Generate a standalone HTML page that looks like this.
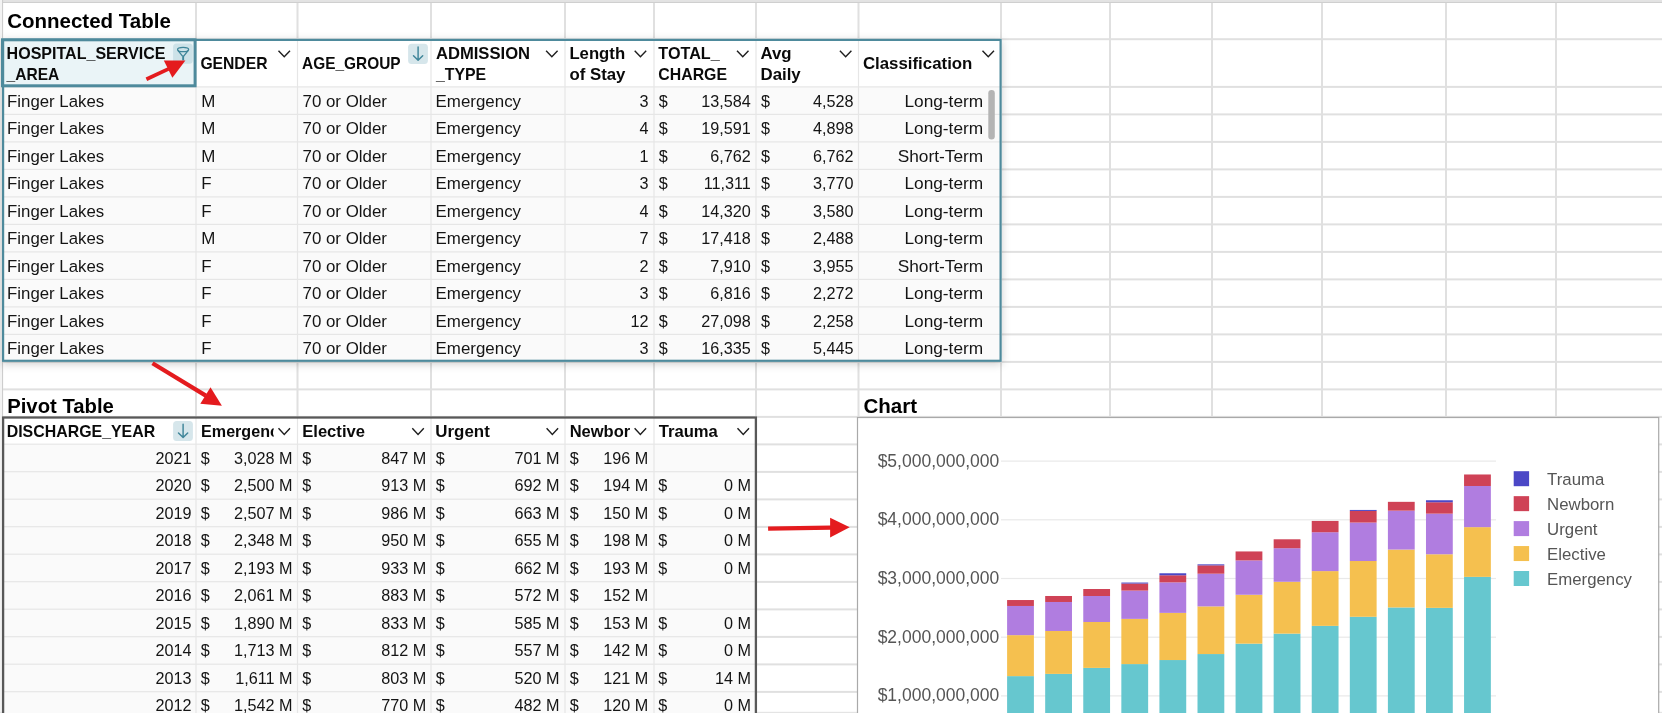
<!DOCTYPE html>
<html><head><meta charset="utf-8"><title>Spreadsheet</title>
<style>html,body{margin:0;padding:0;background:#fff;width:1662px;height:713px;overflow:hidden;position:relative}</style>
</head><body>
<svg width="1662" height="713" viewBox="0 0 1662 713" style="position:absolute;left:0;top:0;will-change:transform"><defs><filter id="sh" filterUnits="userSpaceOnUse" x="-40" y="0" width="1100" height="420"><feGaussianBlur stdDeviation="4.5"/></filter><clipPath id="cE"><rect x="196" y="418" width="77.6" height="26"/></clipPath><clipPath id="cN"><rect x="565" y="418" width="65.2" height="26"/></clipPath><clipPath id="cP"><rect x="0" y="418.6" width="755" height="300"/></clipPath></defs><rect x="0" y="0" width="1662" height="713" fill="#fff"/><rect x="0" y="0" width="1662" height="1.6" fill="#e3e3e3"/><rect x="0" y="1.6" width="1662" height="1.4" fill="#cfcfcf"/><rect x="0" y="0" width="2" height="713" fill="#f3f3f3"/><rect x="2" y="0" width="1.1" height="713" fill="#cdcdcd"/><rect x="195" y="3" width="2" height="713" fill="#e0e0e0"/><rect x="296.5" y="3" width="2" height="713" fill="#e0e0e0"/><rect x="430" y="3" width="2" height="713" fill="#e0e0e0"/><rect x="564" y="3" width="2" height="713" fill="#e0e0e0"/><rect x="653" y="3" width="2" height="713" fill="#e0e0e0"/><rect x="755" y="3" width="2" height="713" fill="#e0e0e0"/><rect x="857.5" y="3" width="2" height="713" fill="#e0e0e0"/><rect x="1000" y="3" width="2" height="713" fill="#e0e0e0"/><rect x="1109" y="3" width="2" height="713" fill="#e0e0e0"/><rect x="1211" y="3" width="2" height="713" fill="#e0e0e0"/><rect x="1321" y="3" width="2" height="713" fill="#e0e0e0"/><rect x="1445" y="3" width="2" height="713" fill="#e0e0e0"/><rect x="1555" y="3" width="2" height="713" fill="#e0e0e0"/><rect x="3" y="38.2" width="1662" height="2" fill="#e0e0e0"/><rect x="3" y="85.9" width="1662" height="2" fill="#e0e0e0"/><rect x="3" y="113.4" width="1662" height="2" fill="#e0e0e0"/><rect x="3" y="140.9" width="1662" height="2" fill="#e0e0e0"/><rect x="3" y="168.4" width="1662" height="2" fill="#e0e0e0"/><rect x="3" y="195.9" width="1662" height="2" fill="#e0e0e0"/><rect x="3" y="223.4" width="1662" height="2" fill="#e0e0e0"/><rect x="3" y="250.9" width="1662" height="2" fill="#e0e0e0"/><rect x="3" y="278.4" width="1662" height="2" fill="#e0e0e0"/><rect x="3" y="305.9" width="1662" height="2" fill="#e0e0e0"/><rect x="3" y="333.4" width="1662" height="2" fill="#e0e0e0"/><rect x="3" y="360.9" width="1662" height="2" fill="#e0e0e0"/><rect x="3" y="388.4" width="1662" height="2" fill="#e0e0e0"/><rect x="3" y="415.9" width="1662" height="2" fill="#e0e0e0"/><rect x="3" y="443.4" width="1662" height="2" fill="#e0e0e0"/><rect x="3" y="470.9" width="1662" height="2" fill="#e0e0e0"/><rect x="3" y="498.4" width="1662" height="2" fill="#e0e0e0"/><rect x="3" y="525.9" width="1662" height="2" fill="#e0e0e0"/><rect x="3" y="553.4" width="1662" height="2" fill="#e0e0e0"/><rect x="3" y="580.9" width="1662" height="2" fill="#e0e0e0"/><rect x="3" y="608.4" width="1662" height="2" fill="#e0e0e0"/><rect x="3" y="635.9" width="1662" height="2" fill="#e0e0e0"/><rect x="3" y="663.4" width="1662" height="2" fill="#e0e0e0"/><rect x="3" y="690.9" width="1662" height="2" fill="#e0e0e0"/><rect x="0" y="711.8" width="1662" height="1.2" fill="#e4e4e4"/><rect x="2" y="40.8" width="999.7" height="323.09999999999997" fill="rgba(0,0,0,0.2)" filter="url(#sh)"/><rect x="2" y="38.8" width="999.7" height="323.09999999999997" fill="#fff"/><rect x="2" y="86.9" width="999.7" height="275.0" fill="#fafafa"/><rect x="2" y="38.8" width="194" height="48.10000000000001" fill="#eaf4f7"/><rect x="195.4" y="38.8" width="1.2" height="323.09999999999997" fill="#e6e6e6"/><rect x="296.9" y="38.8" width="1.2" height="323.09999999999997" fill="#e6e6e6"/><rect x="430.4" y="38.8" width="1.2" height="323.09999999999997" fill="#e6e6e6"/><rect x="564.4" y="38.8" width="1.2" height="323.09999999999997" fill="#e6e6e6"/><rect x="653.4" y="38.8" width="1.2" height="323.09999999999997" fill="#e6e6e6"/><rect x="755.4" y="38.8" width="1.2" height="323.09999999999997" fill="#e6e6e6"/><rect x="857.9" y="38.8" width="1.2" height="323.09999999999997" fill="#e6e6e6"/><rect x="2" y="86.30000000000001" width="999.7" height="1.2" fill="#e6e6e6"/><rect x="2" y="113.80000000000001" width="999.7" height="1.2" fill="#e6e6e6"/><rect x="2" y="141.3" width="999.7" height="1.2" fill="#e6e6e6"/><rect x="2" y="168.8" width="999.7" height="1.2" fill="#e6e6e6"/><rect x="2" y="196.3" width="999.7" height="1.2" fill="#e6e6e6"/><rect x="2" y="223.8" width="999.7" height="1.2" fill="#e6e6e6"/><rect x="2" y="251.3" width="999.7" height="1.2" fill="#e6e6e6"/><rect x="2" y="278.79999999999995" width="999.7" height="1.2" fill="#e6e6e6"/><rect x="2" y="306.29999999999995" width="999.7" height="1.2" fill="#e6e6e6"/><rect x="2" y="333.79999999999995" width="999.7" height="1.2" fill="#e6e6e6"/><rect x="3.1" y="39.9" width="997.5" height="320.9" fill="none" stroke="#4e8a9c" stroke-width="2.2"/><rect x="2.5" y="39.8" width="192.6" height="46.0" fill="none" stroke="#4e8a9c" stroke-width="3"/><rect x="988.3" y="90" width="6.5" height="49.5" rx="3.2" fill="#b4b4b4"/><rect x="2" y="416.4" width="755" height="306.6" fill="#fff"/><rect x="2" y="444.2" width="755" height="713" fill="#fafafa"/><rect x="195.4" y="416.4" width="1.2" height="713" fill="#e6e6e6"/><rect x="296.9" y="416.4" width="1.2" height="713" fill="#e6e6e6"/><rect x="430.4" y="416.4" width="1.2" height="713" fill="#e6e6e6"/><rect x="564.4" y="416.4" width="1.2" height="713" fill="#e6e6e6"/><rect x="653.4" y="416.4" width="1.2" height="713" fill="#e6e6e6"/><rect x="2" y="443.59999999999997" width="755" height="1.2" fill="#e6e6e6"/><rect x="2" y="471.09999999999997" width="755" height="1.2" fill="#e6e6e6"/><rect x="2" y="498.59999999999997" width="755" height="1.2" fill="#e6e6e6"/><rect x="2" y="526.1" width="755" height="1.2" fill="#e6e6e6"/><rect x="2" y="553.6" width="755" height="1.2" fill="#e6e6e6"/><rect x="2" y="581.1" width="755" height="1.2" fill="#e6e6e6"/><rect x="2" y="608.6" width="755" height="1.2" fill="#e6e6e6"/><rect x="2" y="636.1" width="755" height="1.2" fill="#e6e6e6"/><rect x="2" y="663.6" width="755" height="1.2" fill="#e6e6e6"/><rect x="2" y="691.1" width="755" height="1.2" fill="#e6e6e6"/><rect x="2" y="718.6" width="755" height="1.2" fill="#e6e6e6"/><rect x="3.1" y="417.5" width="752.8" height="713" fill="none" stroke="#585858" stroke-width="2.3"/><rect x="857.5" y="417.5" width="801.2" height="713" fill="#fff" stroke="#a9a9a9" stroke-width="1.2"/><rect x="1001" y="695.30" width="495" height="1.2" fill="#e9e9e9"/><rect x="1001" y="636.60" width="495" height="1.2" fill="#e9e9e9"/><rect x="1001" y="577.90" width="495" height="1.2" fill="#e9e9e9"/><rect x="1001" y="519.20" width="495" height="1.2" fill="#e9e9e9"/><rect x="1001" y="460.50" width="495" height="1.2" fill="#e9e9e9"/><rect x="1007.10" y="676.12" width="26.8" height="78.48" fill="#66c7cf"/><rect x="1007.10" y="635.15" width="26.8" height="40.97" fill="#f5c04f"/><rect x="1007.10" y="605.97" width="26.8" height="29.17" fill="#b07de0"/><rect x="1007.10" y="600.04" width="26.8" height="5.93" fill="#cf4256"/><rect x="1045.18" y="673.89" width="26.8" height="80.71" fill="#66c7cf"/><rect x="1045.18" y="630.98" width="26.8" height="42.91" fill="#f5c04f"/><rect x="1045.18" y="601.98" width="26.8" height="29.00" fill="#b07de0"/><rect x="1045.18" y="595.99" width="26.8" height="5.99" fill="#cf4256"/><rect x="1083.26" y="667.90" width="26.8" height="86.70" fill="#66c7cf"/><rect x="1083.26" y="622.00" width="26.8" height="45.90" fill="#f5c04f"/><rect x="1083.26" y="595.99" width="26.8" height="26.00" fill="#b07de0"/><rect x="1083.26" y="589.01" width="26.8" height="6.99" fill="#cf4256"/><rect x="1121.34" y="664.08" width="26.8" height="90.52" fill="#66c7cf"/><rect x="1121.34" y="618.89" width="26.8" height="45.20" fill="#f5c04f"/><rect x="1121.34" y="590.59" width="26.8" height="28.29" fill="#b07de0"/><rect x="1121.34" y="583.55" width="26.8" height="7.04" fill="#cf4256"/><rect x="1121.34" y="582.55" width="26.8" height="1" fill="#4b47c6"/><rect x="1159.42" y="660.03" width="26.8" height="94.57" fill="#66c7cf"/><rect x="1159.42" y="612.90" width="26.8" height="47.14" fill="#f5c04f"/><rect x="1159.42" y="582.37" width="26.8" height="30.52" fill="#b07de0"/><rect x="1159.42" y="575.27" width="26.8" height="7.10" fill="#cf4256"/><rect x="1159.42" y="573.27" width="26.8" height="2" fill="#4b47c6"/><rect x="1197.50" y="654.05" width="26.8" height="100.55" fill="#66c7cf"/><rect x="1197.50" y="606.38" width="26.8" height="47.66" fill="#f5c04f"/><rect x="1197.50" y="573.69" width="26.8" height="32.70" fill="#b07de0"/><rect x="1197.50" y="565.35" width="26.8" height="8.34" fill="#cf4256"/><rect x="1197.50" y="564.35" width="26.8" height="1" fill="#4b47c6"/><rect x="1235.58" y="643.66" width="26.8" height="110.94" fill="#66c7cf"/><rect x="1235.58" y="594.76" width="26.8" height="48.90" fill="#f5c04f"/><rect x="1235.58" y="560.42" width="26.8" height="34.34" fill="#b07de0"/><rect x="1235.58" y="551.44" width="26.8" height="8.98" fill="#cf4256"/><rect x="1273.66" y="633.62" width="26.8" height="120.98" fill="#66c7cf"/><rect x="1273.66" y="581.79" width="26.8" height="51.83" fill="#f5c04f"/><rect x="1273.66" y="548.21" width="26.8" height="33.58" fill="#b07de0"/><rect x="1273.66" y="539.29" width="26.8" height="8.92" fill="#cf4256"/><rect x="1311.74" y="625.87" width="26.8" height="128.73" fill="#66c7cf"/><rect x="1311.74" y="571.10" width="26.8" height="54.77" fill="#f5c04f"/><rect x="1311.74" y="532.24" width="26.8" height="38.86" fill="#b07de0"/><rect x="1311.74" y="520.92" width="26.8" height="11.33" fill="#cf4256"/><rect x="1349.82" y="616.77" width="26.8" height="137.83" fill="#66c7cf"/><rect x="1349.82" y="561.01" width="26.8" height="55.77" fill="#f5c04f"/><rect x="1349.82" y="522.56" width="26.8" height="38.45" fill="#b07de0"/><rect x="1349.82" y="510.94" width="26.8" height="11.62" fill="#cf4256"/><rect x="1349.82" y="509.94" width="26.8" height="1" fill="#4b47c6"/><rect x="1387.90" y="607.44" width="26.8" height="147.16" fill="#66c7cf"/><rect x="1387.90" y="549.56" width="26.8" height="57.88" fill="#f5c04f"/><rect x="1387.90" y="510.64" width="26.8" height="38.92" fill="#b07de0"/><rect x="1387.90" y="501.84" width="26.8" height="8.81" fill="#cf4256"/><rect x="1425.98" y="607.85" width="26.8" height="146.75" fill="#66c7cf"/><rect x="1425.98" y="554.26" width="26.8" height="53.59" fill="#f5c04f"/><rect x="1425.98" y="513.64" width="26.8" height="40.62" fill="#b07de0"/><rect x="1425.98" y="502.25" width="26.8" height="11.39" fill="#cf4256"/><rect x="1425.98" y="500.25" width="26.8" height="2" fill="#4b47c6"/><rect x="1464.06" y="576.86" width="26.8" height="177.74" fill="#66c7cf"/><rect x="1464.06" y="527.14" width="26.8" height="49.72" fill="#f5c04f"/><rect x="1464.06" y="485.99" width="26.8" height="41.15" fill="#b07de0"/><rect x="1464.06" y="474.48" width="26.8" height="11.51" fill="#cf4256"/><rect x="1513.7" y="471.20" width="15.4" height="15" fill="#4b47c6"/><rect x="1513.7" y="496.15" width="15.4" height="15" fill="#cf4256"/><rect x="1513.7" y="521.10" width="15.4" height="15" fill="#b07de0"/><rect x="1513.7" y="546.05" width="15.4" height="15" fill="#f5c04f"/><rect x="1513.7" y="571.00" width="15.4" height="15" fill="#66c7cf"/><path d="M278.50 50.80 L284.25 56.80 L290.00 50.80" fill="none" stroke="#1e1e1e" stroke-width="1.4"/><path d="M546.10 50.80 L551.85 56.80 L557.60 50.80" fill="none" stroke="#1e1e1e" stroke-width="1.4"/><path d="M634.70 50.80 L640.45 56.80 L646.20 50.80" fill="none" stroke="#1e1e1e" stroke-width="1.4"/><path d="M737.00 50.80 L742.75 56.80 L748.50 50.80" fill="none" stroke="#1e1e1e" stroke-width="1.4"/><path d="M839.90 50.80 L845.65 56.80 L851.40 50.80" fill="none" stroke="#1e1e1e" stroke-width="1.4"/><path d="M982.50 50.80 L988.25 56.80 L994.00 50.80" fill="none" stroke="#1e1e1e" stroke-width="1.4"/><path d="M278.50 428.20 L284.25 434.40 L290.00 428.20" fill="none" stroke="#1e1e1e" stroke-width="1.4"/><path d="M412.30 428.20 L418.05 434.40 L423.80 428.20" fill="none" stroke="#1e1e1e" stroke-width="1.4"/><path d="M546.60 428.20 L552.35 434.40 L558.10 428.20" fill="none" stroke="#1e1e1e" stroke-width="1.4"/><path d="M634.60 428.20 L640.35 434.40 L646.10 428.20" fill="none" stroke="#1e1e1e" stroke-width="1.4"/><path d="M737.50 428.20 L743.25 434.40 L749.00 428.20" fill="none" stroke="#1e1e1e" stroke-width="1.4"/><rect x="408.1" y="43.7" width="19.8" height="20.2" rx="3.5" fill="#d6e6eb"/><path d="M418.1 47.0 V60.0 M413.5 55.7 L418.1 60.300000000000004 L422.70000000000005 55.7" fill="none" stroke="#3f8599" stroke-width="1.45" stroke-linecap="round" stroke-linejoin="round"/><rect x="173.1" y="420.9" width="19.8" height="20.2" rx="3.5" fill="#d6e6eb"/><path d="M183.1 424.2 V437.2 M178.5 432.9 L183.1 437.5 L187.7 432.9" fill="none" stroke="#3f8599" stroke-width="1.45" stroke-linecap="round" stroke-linejoin="round"/><rect x="173.1" y="43.6" width="19.7" height="20.1" rx="3.5" fill="#cde2e8"/><g fill="none" stroke="#3f8599" stroke-width="1.3"><ellipse cx="183.1" cy="49.5" rx="5.5" ry="2.2"/><path d="M177.9 50.4 L182.5 56.2 M188.3 50.4 L183.7 56.2"/></g><rect x="182.2" y="55.6" width="1.9" height="4.8" fill="#3f8599"/><g font-family='"Liberation Sans", Arial, sans-serif'><text x="7.2" y="28" font-size="20.5" font-weight="bold" text-anchor="start" fill="#000" >Connected Table</text><text x="7.2" y="412.5" font-size="20.3" font-weight="bold" text-anchor="start" fill="#000" >Pivot Table</text><text x="863.5" y="412.8" font-size="20.5" font-weight="bold" text-anchor="start" fill="#000" >Chart</text><text x="6.6" y="58.8" font-size="15.7" font-weight="bold" text-anchor="start" fill="#0a0a0a" textLength="158.89999999999998" lengthAdjust="spacingAndGlyphs">HOSPITAL_SERVICE</text><text x="6.6" y="79.5" font-size="15.7" font-weight="bold" text-anchor="start" fill="#0a0a0a" textLength="52.7" lengthAdjust="spacingAndGlyphs">_AREA</text><text x="200.4" y="69.0" font-size="15.7" font-weight="bold" text-anchor="start" fill="#0a0a0a" textLength="67.10000000000001" lengthAdjust="spacingAndGlyphs">GENDER</text><text x="302.1" y="69.0" font-size="15.7" font-weight="bold" text-anchor="start" fill="#0a0a0a" textLength="98.5" lengthAdjust="spacingAndGlyphs">AGE_GROUP</text><text x="435.90000000000003" y="58.8" font-size="15.7" font-weight="bold" text-anchor="start" fill="#0a0a0a" textLength="94.2" lengthAdjust="spacingAndGlyphs">ADMISSION</text><text x="435.90000000000003" y="79.5" font-size="15.7" font-weight="bold" text-anchor="start" fill="#0a0a0a" textLength="50.300000000000004" lengthAdjust="spacingAndGlyphs">_TYPE</text><text x="569.4" y="58.8" font-size="15.7" font-weight="bold" text-anchor="start" fill="#0a0a0a" textLength="55.7" lengthAdjust="spacingAndGlyphs">Length</text><text x="569.4" y="79.5" font-size="15.7" font-weight="bold" text-anchor="start" fill="#0a0a0a" textLength="56.1" lengthAdjust="spacingAndGlyphs">of Stay</text><text x="658.3000000000001" y="58.8" font-size="15.7" font-weight="bold" text-anchor="start" fill="#0a0a0a" textLength="61.400000000000006" lengthAdjust="spacingAndGlyphs">TOTAL_</text><text x="658.3000000000001" y="79.5" font-size="15.7" font-weight="bold" text-anchor="start" fill="#0a0a0a" textLength="68.7" lengthAdjust="spacingAndGlyphs">CHARGE</text><text x="760.5" y="58.8" font-size="15.7" font-weight="bold" text-anchor="start" fill="#0a0a0a" textLength="31.099999999999998" lengthAdjust="spacingAndGlyphs">Avg</text><text x="760.5" y="79.5" font-size="15.7" font-weight="bold" text-anchor="start" fill="#0a0a0a" textLength="40.2" lengthAdjust="spacingAndGlyphs">Daily</text><text x="862.9" y="69.0" font-size="15.7" font-weight="bold" text-anchor="start" fill="#0a0a0a" textLength="109.5" lengthAdjust="spacingAndGlyphs">Classification</text><text x="7.1" y="106.6" font-size="16.8" font-weight="normal" text-anchor="start" fill="#141414" >Finger Lakes</text><text x="201.2" y="106.6" font-size="16.9" font-weight="normal" text-anchor="start" fill="#141414" >M</text><text x="302.5" y="106.6" font-size="16.9" font-weight="normal" text-anchor="start" fill="#141414" >70 or Older</text><text x="435.6" y="106.6" font-size="16.9" font-weight="normal" text-anchor="start" fill="#141414" >Emergency</text><text x="648.6" y="106.6" font-size="16.2" font-weight="normal" text-anchor="end" fill="#141414" >3</text><text x="658.7" y="106.6" font-size="16.2" font-weight="normal" text-anchor="start" fill="#141414" >$</text><text x="750.8" y="106.6" font-size="16.2" font-weight="normal" text-anchor="end" fill="#141414" >13,584</text><text x="760.9" y="106.6" font-size="16.2" font-weight="normal" text-anchor="start" fill="#141414" >$</text><text x="853.6" y="106.6" font-size="16.2" font-weight="normal" text-anchor="end" fill="#141414" >4,528</text><text x="983.2" y="106.6" font-size="17.3" font-weight="normal" text-anchor="end" fill="#141414" >Long-term</text><text x="7.1" y="134.1" font-size="16.8" font-weight="normal" text-anchor="start" fill="#141414" >Finger Lakes</text><text x="201.2" y="134.1" font-size="16.9" font-weight="normal" text-anchor="start" fill="#141414" >M</text><text x="302.5" y="134.1" font-size="16.9" font-weight="normal" text-anchor="start" fill="#141414" >70 or Older</text><text x="435.6" y="134.1" font-size="16.9" font-weight="normal" text-anchor="start" fill="#141414" >Emergency</text><text x="648.6" y="134.1" font-size="16.2" font-weight="normal" text-anchor="end" fill="#141414" >4</text><text x="658.7" y="134.1" font-size="16.2" font-weight="normal" text-anchor="start" fill="#141414" >$</text><text x="750.8" y="134.1" font-size="16.2" font-weight="normal" text-anchor="end" fill="#141414" >19,591</text><text x="760.9" y="134.1" font-size="16.2" font-weight="normal" text-anchor="start" fill="#141414" >$</text><text x="853.6" y="134.1" font-size="16.2" font-weight="normal" text-anchor="end" fill="#141414" >4,898</text><text x="983.2" y="134.1" font-size="17.3" font-weight="normal" text-anchor="end" fill="#141414" >Long-term</text><text x="7.1" y="161.6" font-size="16.8" font-weight="normal" text-anchor="start" fill="#141414" >Finger Lakes</text><text x="201.2" y="161.6" font-size="16.9" font-weight="normal" text-anchor="start" fill="#141414" >M</text><text x="302.5" y="161.6" font-size="16.9" font-weight="normal" text-anchor="start" fill="#141414" >70 or Older</text><text x="435.6" y="161.6" font-size="16.9" font-weight="normal" text-anchor="start" fill="#141414" >Emergency</text><text x="648.6" y="161.6" font-size="16.2" font-weight="normal" text-anchor="end" fill="#141414" >1</text><text x="658.7" y="161.6" font-size="16.2" font-weight="normal" text-anchor="start" fill="#141414" >$</text><text x="750.8" y="161.6" font-size="16.2" font-weight="normal" text-anchor="end" fill="#141414" >6,762</text><text x="760.9" y="161.6" font-size="16.2" font-weight="normal" text-anchor="start" fill="#141414" >$</text><text x="853.6" y="161.6" font-size="16.2" font-weight="normal" text-anchor="end" fill="#141414" >6,762</text><text x="983.2" y="161.6" font-size="17.3" font-weight="normal" text-anchor="end" fill="#141414" >Short-Term</text><text x="7.1" y="189.1" font-size="16.8" font-weight="normal" text-anchor="start" fill="#141414" >Finger Lakes</text><text x="201.2" y="189.1" font-size="16.9" font-weight="normal" text-anchor="start" fill="#141414" >F</text><text x="302.5" y="189.1" font-size="16.9" font-weight="normal" text-anchor="start" fill="#141414" >70 or Older</text><text x="435.6" y="189.1" font-size="16.9" font-weight="normal" text-anchor="start" fill="#141414" >Emergency</text><text x="648.6" y="189.1" font-size="16.2" font-weight="normal" text-anchor="end" fill="#141414" >3</text><text x="658.7" y="189.1" font-size="16.2" font-weight="normal" text-anchor="start" fill="#141414" >$</text><text x="750.8" y="189.1" font-size="16.2" font-weight="normal" text-anchor="end" fill="#141414" >11,311</text><text x="760.9" y="189.1" font-size="16.2" font-weight="normal" text-anchor="start" fill="#141414" >$</text><text x="853.6" y="189.1" font-size="16.2" font-weight="normal" text-anchor="end" fill="#141414" >3,770</text><text x="983.2" y="189.1" font-size="17.3" font-weight="normal" text-anchor="end" fill="#141414" >Long-term</text><text x="7.1" y="216.6" font-size="16.8" font-weight="normal" text-anchor="start" fill="#141414" >Finger Lakes</text><text x="201.2" y="216.6" font-size="16.9" font-weight="normal" text-anchor="start" fill="#141414" >F</text><text x="302.5" y="216.6" font-size="16.9" font-weight="normal" text-anchor="start" fill="#141414" >70 or Older</text><text x="435.6" y="216.6" font-size="16.9" font-weight="normal" text-anchor="start" fill="#141414" >Emergency</text><text x="648.6" y="216.6" font-size="16.2" font-weight="normal" text-anchor="end" fill="#141414" >4</text><text x="658.7" y="216.6" font-size="16.2" font-weight="normal" text-anchor="start" fill="#141414" >$</text><text x="750.8" y="216.6" font-size="16.2" font-weight="normal" text-anchor="end" fill="#141414" >14,320</text><text x="760.9" y="216.6" font-size="16.2" font-weight="normal" text-anchor="start" fill="#141414" >$</text><text x="853.6" y="216.6" font-size="16.2" font-weight="normal" text-anchor="end" fill="#141414" >3,580</text><text x="983.2" y="216.6" font-size="17.3" font-weight="normal" text-anchor="end" fill="#141414" >Long-term</text><text x="7.1" y="244.1" font-size="16.8" font-weight="normal" text-anchor="start" fill="#141414" >Finger Lakes</text><text x="201.2" y="244.1" font-size="16.9" font-weight="normal" text-anchor="start" fill="#141414" >M</text><text x="302.5" y="244.1" font-size="16.9" font-weight="normal" text-anchor="start" fill="#141414" >70 or Older</text><text x="435.6" y="244.1" font-size="16.9" font-weight="normal" text-anchor="start" fill="#141414" >Emergency</text><text x="648.6" y="244.1" font-size="16.2" font-weight="normal" text-anchor="end" fill="#141414" >7</text><text x="658.7" y="244.1" font-size="16.2" font-weight="normal" text-anchor="start" fill="#141414" >$</text><text x="750.8" y="244.1" font-size="16.2" font-weight="normal" text-anchor="end" fill="#141414" >17,418</text><text x="760.9" y="244.1" font-size="16.2" font-weight="normal" text-anchor="start" fill="#141414" >$</text><text x="853.6" y="244.1" font-size="16.2" font-weight="normal" text-anchor="end" fill="#141414" >2,488</text><text x="983.2" y="244.1" font-size="17.3" font-weight="normal" text-anchor="end" fill="#141414" >Long-term</text><text x="7.1" y="271.6" font-size="16.8" font-weight="normal" text-anchor="start" fill="#141414" >Finger Lakes</text><text x="201.2" y="271.6" font-size="16.9" font-weight="normal" text-anchor="start" fill="#141414" >F</text><text x="302.5" y="271.6" font-size="16.9" font-weight="normal" text-anchor="start" fill="#141414" >70 or Older</text><text x="435.6" y="271.6" font-size="16.9" font-weight="normal" text-anchor="start" fill="#141414" >Emergency</text><text x="648.6" y="271.6" font-size="16.2" font-weight="normal" text-anchor="end" fill="#141414" >2</text><text x="658.7" y="271.6" font-size="16.2" font-weight="normal" text-anchor="start" fill="#141414" >$</text><text x="750.8" y="271.6" font-size="16.2" font-weight="normal" text-anchor="end" fill="#141414" >7,910</text><text x="760.9" y="271.6" font-size="16.2" font-weight="normal" text-anchor="start" fill="#141414" >$</text><text x="853.6" y="271.6" font-size="16.2" font-weight="normal" text-anchor="end" fill="#141414" >3,955</text><text x="983.2" y="271.6" font-size="17.3" font-weight="normal" text-anchor="end" fill="#141414" >Short-Term</text><text x="7.1" y="299.1" font-size="16.8" font-weight="normal" text-anchor="start" fill="#141414" >Finger Lakes</text><text x="201.2" y="299.1" font-size="16.9" font-weight="normal" text-anchor="start" fill="#141414" >F</text><text x="302.5" y="299.1" font-size="16.9" font-weight="normal" text-anchor="start" fill="#141414" >70 or Older</text><text x="435.6" y="299.1" font-size="16.9" font-weight="normal" text-anchor="start" fill="#141414" >Emergency</text><text x="648.6" y="299.1" font-size="16.2" font-weight="normal" text-anchor="end" fill="#141414" >3</text><text x="658.7" y="299.1" font-size="16.2" font-weight="normal" text-anchor="start" fill="#141414" >$</text><text x="750.8" y="299.1" font-size="16.2" font-weight="normal" text-anchor="end" fill="#141414" >6,816</text><text x="760.9" y="299.1" font-size="16.2" font-weight="normal" text-anchor="start" fill="#141414" >$</text><text x="853.6" y="299.1" font-size="16.2" font-weight="normal" text-anchor="end" fill="#141414" >2,272</text><text x="983.2" y="299.1" font-size="17.3" font-weight="normal" text-anchor="end" fill="#141414" >Long-term</text><text x="7.1" y="326.6" font-size="16.8" font-weight="normal" text-anchor="start" fill="#141414" >Finger Lakes</text><text x="201.2" y="326.6" font-size="16.9" font-weight="normal" text-anchor="start" fill="#141414" >F</text><text x="302.5" y="326.6" font-size="16.9" font-weight="normal" text-anchor="start" fill="#141414" >70 or Older</text><text x="435.6" y="326.6" font-size="16.9" font-weight="normal" text-anchor="start" fill="#141414" >Emergency</text><text x="648.6" y="326.6" font-size="16.2" font-weight="normal" text-anchor="end" fill="#141414" >12</text><text x="658.7" y="326.6" font-size="16.2" font-weight="normal" text-anchor="start" fill="#141414" >$</text><text x="750.8" y="326.6" font-size="16.2" font-weight="normal" text-anchor="end" fill="#141414" >27,098</text><text x="760.9" y="326.6" font-size="16.2" font-weight="normal" text-anchor="start" fill="#141414" >$</text><text x="853.6" y="326.6" font-size="16.2" font-weight="normal" text-anchor="end" fill="#141414" >2,258</text><text x="983.2" y="326.6" font-size="17.3" font-weight="normal" text-anchor="end" fill="#141414" >Long-term</text><text x="7.1" y="354.1" font-size="16.8" font-weight="normal" text-anchor="start" fill="#141414" >Finger Lakes</text><text x="201.2" y="354.1" font-size="16.9" font-weight="normal" text-anchor="start" fill="#141414" >F</text><text x="302.5" y="354.1" font-size="16.9" font-weight="normal" text-anchor="start" fill="#141414" >70 or Older</text><text x="435.6" y="354.1" font-size="16.9" font-weight="normal" text-anchor="start" fill="#141414" >Emergency</text><text x="648.6" y="354.1" font-size="16.2" font-weight="normal" text-anchor="end" fill="#141414" >3</text><text x="658.7" y="354.1" font-size="16.2" font-weight="normal" text-anchor="start" fill="#141414" >$</text><text x="750.8" y="354.1" font-size="16.2" font-weight="normal" text-anchor="end" fill="#141414" >16,335</text><text x="760.9" y="354.1" font-size="16.2" font-weight="normal" text-anchor="start" fill="#141414" >$</text><text x="853.6" y="354.1" font-size="16.2" font-weight="normal" text-anchor="end" fill="#141414" >5,445</text><text x="983.2" y="354.1" font-size="17.3" font-weight="normal" text-anchor="end" fill="#141414" >Long-term</text><text x="6.7" y="437" font-size="15.7" font-weight="bold" text-anchor="start" fill="#0a0a0a" textLength="148.5" lengthAdjust="spacingAndGlyphs">DISCHARGE_YEAR</text><g clip-path="url(#cE)"><text x="201.1" y="437" font-size="16.1" font-weight="bold" text-anchor="start" fill="#0a0a0a" >Emergency</text></g><text x="302.2" y="437" font-size="15.7" font-weight="bold" text-anchor="start" fill="#0a0a0a" textLength="62.800000000000004" lengthAdjust="spacingAndGlyphs">Elective</text><text x="435.3" y="437" font-size="15.7" font-weight="bold" text-anchor="start" fill="#0a0a0a" textLength="54.5" lengthAdjust="spacingAndGlyphs">Urgent</text><g clip-path="url(#cN)"><text x="569.7" y="437" font-size="16.5" font-weight="bold" text-anchor="start" fill="#0a0a0a" >Newborn</text></g><text x="658.7" y="437" font-size="15.7" font-weight="bold" text-anchor="start" fill="#0a0a0a" textLength="59.2" lengthAdjust="spacingAndGlyphs">Trauma</text><g clip-path="url(#cP)"><text x="191.4" y="463.6" font-size="16.2" font-weight="normal" text-anchor="end" fill="#141414" >2021</text><text x="200.7" y="463.6" font-size="16.2" font-weight="normal" text-anchor="start" fill="#141414" >$</text><text x="292.6" y="463.6" font-size="16.2" font-weight="normal" text-anchor="end" fill="#141414" >3,028 M</text><text x="302.2" y="463.6" font-size="16.2" font-weight="normal" text-anchor="start" fill="#141414" >$</text><text x="426.2" y="463.6" font-size="16.2" font-weight="normal" text-anchor="end" fill="#141414" >847 M</text><text x="435.8" y="463.6" font-size="16.2" font-weight="normal" text-anchor="start" fill="#141414" >$</text><text x="559.4" y="463.6" font-size="16.2" font-weight="normal" text-anchor="end" fill="#141414" >701 M</text><text x="569.8" y="463.6" font-size="16.2" font-weight="normal" text-anchor="start" fill="#141414" >$</text><text x="648.3" y="463.6" font-size="16.2" font-weight="normal" text-anchor="end" fill="#141414" >196 M</text><text x="191.4" y="491.1" font-size="16.2" font-weight="normal" text-anchor="end" fill="#141414" >2020</text><text x="200.7" y="491.1" font-size="16.2" font-weight="normal" text-anchor="start" fill="#141414" >$</text><text x="292.6" y="491.1" font-size="16.2" font-weight="normal" text-anchor="end" fill="#141414" >2,500 M</text><text x="302.2" y="491.1" font-size="16.2" font-weight="normal" text-anchor="start" fill="#141414" >$</text><text x="426.2" y="491.1" font-size="16.2" font-weight="normal" text-anchor="end" fill="#141414" >913 M</text><text x="435.8" y="491.1" font-size="16.2" font-weight="normal" text-anchor="start" fill="#141414" >$</text><text x="559.4" y="491.1" font-size="16.2" font-weight="normal" text-anchor="end" fill="#141414" >692 M</text><text x="569.8" y="491.1" font-size="16.2" font-weight="normal" text-anchor="start" fill="#141414" >$</text><text x="648.3" y="491.1" font-size="16.2" font-weight="normal" text-anchor="end" fill="#141414" >194 M</text><text x="658.2" y="491.1" font-size="16.2" font-weight="normal" text-anchor="start" fill="#141414" >$</text><text x="750.9" y="491.1" font-size="16.2" font-weight="normal" text-anchor="end" fill="#141414" >0 M</text><text x="191.4" y="518.6" font-size="16.2" font-weight="normal" text-anchor="end" fill="#141414" >2019</text><text x="200.7" y="518.6" font-size="16.2" font-weight="normal" text-anchor="start" fill="#141414" >$</text><text x="292.6" y="518.6" font-size="16.2" font-weight="normal" text-anchor="end" fill="#141414" >2,507 M</text><text x="302.2" y="518.6" font-size="16.2" font-weight="normal" text-anchor="start" fill="#141414" >$</text><text x="426.2" y="518.6" font-size="16.2" font-weight="normal" text-anchor="end" fill="#141414" >986 M</text><text x="435.8" y="518.6" font-size="16.2" font-weight="normal" text-anchor="start" fill="#141414" >$</text><text x="559.4" y="518.6" font-size="16.2" font-weight="normal" text-anchor="end" fill="#141414" >663 M</text><text x="569.8" y="518.6" font-size="16.2" font-weight="normal" text-anchor="start" fill="#141414" >$</text><text x="648.3" y="518.6" font-size="16.2" font-weight="normal" text-anchor="end" fill="#141414" >150 M</text><text x="658.2" y="518.6" font-size="16.2" font-weight="normal" text-anchor="start" fill="#141414" >$</text><text x="750.9" y="518.6" font-size="16.2" font-weight="normal" text-anchor="end" fill="#141414" >0 M</text><text x="191.4" y="546.1" font-size="16.2" font-weight="normal" text-anchor="end" fill="#141414" >2018</text><text x="200.7" y="546.1" font-size="16.2" font-weight="normal" text-anchor="start" fill="#141414" >$</text><text x="292.6" y="546.1" font-size="16.2" font-weight="normal" text-anchor="end" fill="#141414" >2,348 M</text><text x="302.2" y="546.1" font-size="16.2" font-weight="normal" text-anchor="start" fill="#141414" >$</text><text x="426.2" y="546.1" font-size="16.2" font-weight="normal" text-anchor="end" fill="#141414" >950 M</text><text x="435.8" y="546.1" font-size="16.2" font-weight="normal" text-anchor="start" fill="#141414" >$</text><text x="559.4" y="546.1" font-size="16.2" font-weight="normal" text-anchor="end" fill="#141414" >655 M</text><text x="569.8" y="546.1" font-size="16.2" font-weight="normal" text-anchor="start" fill="#141414" >$</text><text x="648.3" y="546.1" font-size="16.2" font-weight="normal" text-anchor="end" fill="#141414" >198 M</text><text x="658.2" y="546.1" font-size="16.2" font-weight="normal" text-anchor="start" fill="#141414" >$</text><text x="750.9" y="546.1" font-size="16.2" font-weight="normal" text-anchor="end" fill="#141414" >0 M</text><text x="191.4" y="573.6" font-size="16.2" font-weight="normal" text-anchor="end" fill="#141414" >2017</text><text x="200.7" y="573.6" font-size="16.2" font-weight="normal" text-anchor="start" fill="#141414" >$</text><text x="292.6" y="573.6" font-size="16.2" font-weight="normal" text-anchor="end" fill="#141414" >2,193 M</text><text x="302.2" y="573.6" font-size="16.2" font-weight="normal" text-anchor="start" fill="#141414" >$</text><text x="426.2" y="573.6" font-size="16.2" font-weight="normal" text-anchor="end" fill="#141414" >933 M</text><text x="435.8" y="573.6" font-size="16.2" font-weight="normal" text-anchor="start" fill="#141414" >$</text><text x="559.4" y="573.6" font-size="16.2" font-weight="normal" text-anchor="end" fill="#141414" >662 M</text><text x="569.8" y="573.6" font-size="16.2" font-weight="normal" text-anchor="start" fill="#141414" >$</text><text x="648.3" y="573.6" font-size="16.2" font-weight="normal" text-anchor="end" fill="#141414" >193 M</text><text x="658.2" y="573.6" font-size="16.2" font-weight="normal" text-anchor="start" fill="#141414" >$</text><text x="750.9" y="573.6" font-size="16.2" font-weight="normal" text-anchor="end" fill="#141414" >0 M</text><text x="191.4" y="601.1" font-size="16.2" font-weight="normal" text-anchor="end" fill="#141414" >2016</text><text x="200.7" y="601.1" font-size="16.2" font-weight="normal" text-anchor="start" fill="#141414" >$</text><text x="292.6" y="601.1" font-size="16.2" font-weight="normal" text-anchor="end" fill="#141414" >2,061 M</text><text x="302.2" y="601.1" font-size="16.2" font-weight="normal" text-anchor="start" fill="#141414" >$</text><text x="426.2" y="601.1" font-size="16.2" font-weight="normal" text-anchor="end" fill="#141414" >883 M</text><text x="435.8" y="601.1" font-size="16.2" font-weight="normal" text-anchor="start" fill="#141414" >$</text><text x="559.4" y="601.1" font-size="16.2" font-weight="normal" text-anchor="end" fill="#141414" >572 M</text><text x="569.8" y="601.1" font-size="16.2" font-weight="normal" text-anchor="start" fill="#141414" >$</text><text x="648.3" y="601.1" font-size="16.2" font-weight="normal" text-anchor="end" fill="#141414" >152 M</text><text x="191.4" y="628.6" font-size="16.2" font-weight="normal" text-anchor="end" fill="#141414" >2015</text><text x="200.7" y="628.6" font-size="16.2" font-weight="normal" text-anchor="start" fill="#141414" >$</text><text x="292.6" y="628.6" font-size="16.2" font-weight="normal" text-anchor="end" fill="#141414" >1,890 M</text><text x="302.2" y="628.6" font-size="16.2" font-weight="normal" text-anchor="start" fill="#141414" >$</text><text x="426.2" y="628.6" font-size="16.2" font-weight="normal" text-anchor="end" fill="#141414" >833 M</text><text x="435.8" y="628.6" font-size="16.2" font-weight="normal" text-anchor="start" fill="#141414" >$</text><text x="559.4" y="628.6" font-size="16.2" font-weight="normal" text-anchor="end" fill="#141414" >585 M</text><text x="569.8" y="628.6" font-size="16.2" font-weight="normal" text-anchor="start" fill="#141414" >$</text><text x="648.3" y="628.6" font-size="16.2" font-weight="normal" text-anchor="end" fill="#141414" >153 M</text><text x="658.2" y="628.6" font-size="16.2" font-weight="normal" text-anchor="start" fill="#141414" >$</text><text x="750.9" y="628.6" font-size="16.2" font-weight="normal" text-anchor="end" fill="#141414" >0 M</text><text x="191.4" y="656.1" font-size="16.2" font-weight="normal" text-anchor="end" fill="#141414" >2014</text><text x="200.7" y="656.1" font-size="16.2" font-weight="normal" text-anchor="start" fill="#141414" >$</text><text x="292.6" y="656.1" font-size="16.2" font-weight="normal" text-anchor="end" fill="#141414" >1,713 M</text><text x="302.2" y="656.1" font-size="16.2" font-weight="normal" text-anchor="start" fill="#141414" >$</text><text x="426.2" y="656.1" font-size="16.2" font-weight="normal" text-anchor="end" fill="#141414" >812 M</text><text x="435.8" y="656.1" font-size="16.2" font-weight="normal" text-anchor="start" fill="#141414" >$</text><text x="559.4" y="656.1" font-size="16.2" font-weight="normal" text-anchor="end" fill="#141414" >557 M</text><text x="569.8" y="656.1" font-size="16.2" font-weight="normal" text-anchor="start" fill="#141414" >$</text><text x="648.3" y="656.1" font-size="16.2" font-weight="normal" text-anchor="end" fill="#141414" >142 M</text><text x="658.2" y="656.1" font-size="16.2" font-weight="normal" text-anchor="start" fill="#141414" >$</text><text x="750.9" y="656.1" font-size="16.2" font-weight="normal" text-anchor="end" fill="#141414" >0 M</text><text x="191.4" y="683.6" font-size="16.2" font-weight="normal" text-anchor="end" fill="#141414" >2013</text><text x="200.7" y="683.6" font-size="16.2" font-weight="normal" text-anchor="start" fill="#141414" >$</text><text x="292.6" y="683.6" font-size="16.2" font-weight="normal" text-anchor="end" fill="#141414" >1,611 M</text><text x="302.2" y="683.6" font-size="16.2" font-weight="normal" text-anchor="start" fill="#141414" >$</text><text x="426.2" y="683.6" font-size="16.2" font-weight="normal" text-anchor="end" fill="#141414" >803 M</text><text x="435.8" y="683.6" font-size="16.2" font-weight="normal" text-anchor="start" fill="#141414" >$</text><text x="559.4" y="683.6" font-size="16.2" font-weight="normal" text-anchor="end" fill="#141414" >520 M</text><text x="569.8" y="683.6" font-size="16.2" font-weight="normal" text-anchor="start" fill="#141414" >$</text><text x="648.3" y="683.6" font-size="16.2" font-weight="normal" text-anchor="end" fill="#141414" >121 M</text><text x="658.2" y="683.6" font-size="16.2" font-weight="normal" text-anchor="start" fill="#141414" >$</text><text x="750.9" y="683.6" font-size="16.2" font-weight="normal" text-anchor="end" fill="#141414" >14 M</text><text x="191.4" y="711.1" font-size="16.2" font-weight="normal" text-anchor="end" fill="#141414" >2012</text><text x="200.7" y="711.1" font-size="16.2" font-weight="normal" text-anchor="start" fill="#141414" >$</text><text x="292.6" y="711.1" font-size="16.2" font-weight="normal" text-anchor="end" fill="#141414" >1,542 M</text><text x="302.2" y="711.1" font-size="16.2" font-weight="normal" text-anchor="start" fill="#141414" >$</text><text x="426.2" y="711.1" font-size="16.2" font-weight="normal" text-anchor="end" fill="#141414" >770 M</text><text x="435.8" y="711.1" font-size="16.2" font-weight="normal" text-anchor="start" fill="#141414" >$</text><text x="559.4" y="711.1" font-size="16.2" font-weight="normal" text-anchor="end" fill="#141414" >482 M</text><text x="569.8" y="711.1" font-size="16.2" font-weight="normal" text-anchor="start" fill="#141414" >$</text><text x="648.3" y="711.1" font-size="16.2" font-weight="normal" text-anchor="end" fill="#141414" >120 M</text><text x="658.2" y="711.1" font-size="16.2" font-weight="normal" text-anchor="start" fill="#141414" >$</text><text x="750.9" y="711.1" font-size="16.2" font-weight="normal" text-anchor="end" fill="#141414" >0 M</text><text x="191.4" y="738.6" font-size="16.2" font-weight="normal" text-anchor="end" fill="#141414" >2011</text><text x="200.7" y="738.6" font-size="16.2" font-weight="normal" text-anchor="start" fill="#141414" >$</text><text x="292.6" y="738.6" font-size="16.2" font-weight="normal" text-anchor="end" fill="#141414" >1,477 M</text><text x="302.2" y="738.6" font-size="16.2" font-weight="normal" text-anchor="start" fill="#141414" >$</text><text x="426.2" y="738.6" font-size="16.2" font-weight="normal" text-anchor="end" fill="#141414" >782 M</text><text x="435.8" y="738.6" font-size="16.2" font-weight="normal" text-anchor="start" fill="#141414" >$</text><text x="559.4" y="738.6" font-size="16.2" font-weight="normal" text-anchor="end" fill="#141414" >443 M</text><text x="569.8" y="738.6" font-size="16.2" font-weight="normal" text-anchor="start" fill="#141414" >$</text><text x="648.3" y="738.6" font-size="16.2" font-weight="normal" text-anchor="end" fill="#141414" >119 M</text><text x="658.2" y="738.6" font-size="16.2" font-weight="normal" text-anchor="start" fill="#141414" >$</text><text x="750.9" y="738.6" font-size="16.2" font-weight="normal" text-anchor="end" fill="#141414" >0 M</text></g><text x="999.3" y="701.40" font-size="17.5" font-weight="normal" text-anchor="end" fill="#555" >$1,000,000,000</text><text x="999.3" y="642.70" font-size="17.5" font-weight="normal" text-anchor="end" fill="#555" >$2,000,000,000</text><text x="999.3" y="584.00" font-size="17.5" font-weight="normal" text-anchor="end" fill="#555" >$3,000,000,000</text><text x="999.3" y="525.30" font-size="17.5" font-weight="normal" text-anchor="end" fill="#555" >$4,000,000,000</text><text x="999.3" y="466.60" font-size="17.5" font-weight="normal" text-anchor="end" fill="#555" >$5,000,000,000</text><text x="1547.1" y="485.10" font-size="16.8" font-weight="normal" text-anchor="start" fill="#555" >Trauma</text><text x="1547.1" y="510.05" font-size="16.8" font-weight="normal" text-anchor="start" fill="#555" >Newborn</text><text x="1547.1" y="535.00" font-size="16.8" font-weight="normal" text-anchor="start" fill="#555" >Urgent</text><text x="1547.1" y="559.95" font-size="16.8" font-weight="normal" text-anchor="start" fill="#555" >Elective</text><text x="1547.1" y="584.90" font-size="16.8" font-weight="normal" text-anchor="start" fill="#555" >Emergency</text></g><polygon points="147.20,80.92 169.40,70.62 167.80,67.18 145.60,77.48" fill="#e41b1e"/><polygon points="163.8,60.4 185.4,60.4 172.4,77.8" fill="#e41b1e"/><polygon points="151.41,365.10 204.71,397.40 206.89,393.80 153.59,361.50" fill="#e41b1e"/><polygon points="210.5,387.2 221.9,405.7 200.3,403.8" fill="#e41b1e"/><polygon points="768.13,530.80 831.03,529.80 830.97,525.60 768.07,526.60" fill="#e41b1e"/><polygon points="830.1,517.8 849.7,527.3 830.1,537.4" fill="#e41b1e"/></svg>
</body></html>
